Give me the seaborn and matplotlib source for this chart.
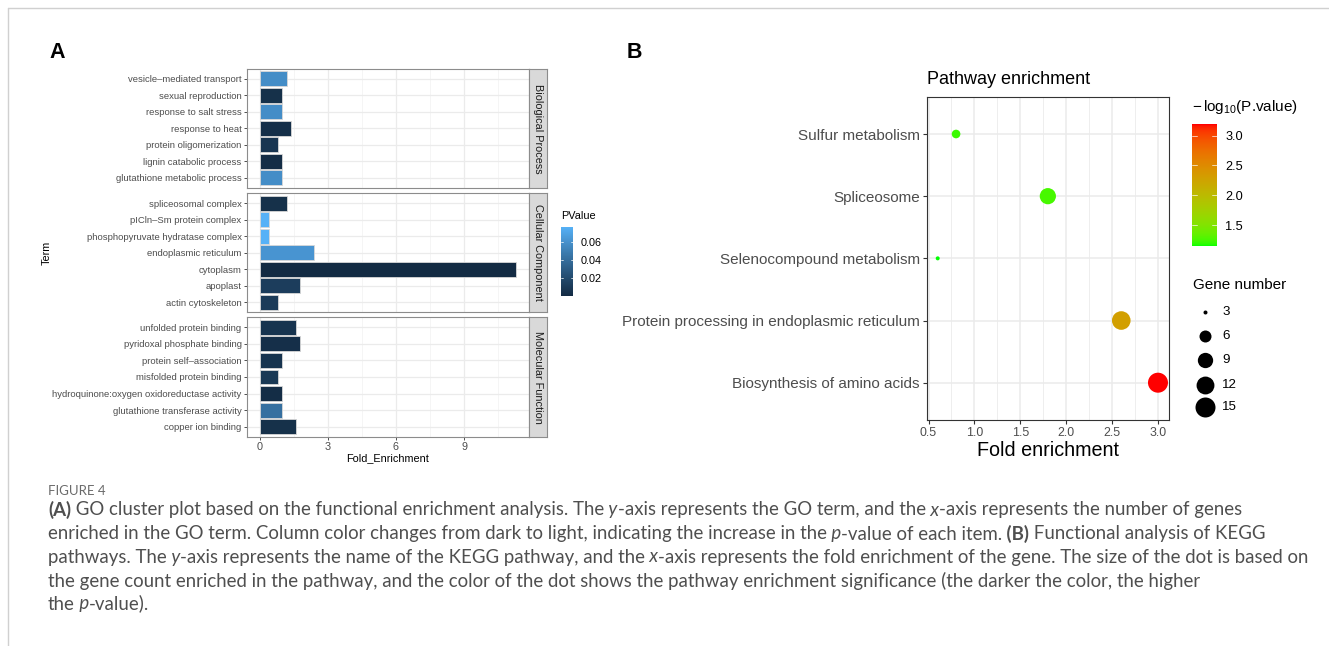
import numpy as np
import pandas as pd
import matplotlib
matplotlib.use("Agg")
import matplotlib.pyplot as plt
import seaborn as sns
from matplotlib import colors as mcolors
from matplotlib.cm import ScalarMappable
from matplotlib.lines import Line2D
from matplotlib.transforms import blended_transform_factory

# ---------------- data: panel A (GO terms, listed top to bottom) ----------------
bp_terms = ["vesicle–mediated transport", "sexual reproduction", "response to salt stress",
            "response to heat", "protein oligomerization", "lignin catabolic process",
            "glutathione metabolic process"]
bp_fold = [1.2, 1.0, 1.0, 1.4, 0.8, 1.0, 1.0]
bp_p = [0.058, 0.004, 0.058, 0.003, 0.007, 0.002, 0.058]

cc_terms = ["spliceosomal complex", "pICln–Sm protein complex", "phosphopyruvate hydratase complex",
            "endoplasmic reticulum", "cytoplasm", "apoplast", "actin cytoskeleton"]
cc_fold = [1.2, 0.4, 0.4, 2.4, 11.3, 1.8, 0.8]
cc_p = [0.004, 0.077, 0.077, 0.062, 0.0003, 0.012, 0.011]

mf_terms = ["unfolded protein binding", "pyridoxal phosphate binding", "protein self–association",
            "misfolded protein binding", "hydroquinone:oxygen oxidoreductase activity",
            "glutathione transferase activity", "copper ion binding"]
mf_fold = [1.6, 1.8, 1.0, 0.8, 1.0, 1.0, 1.6]
mf_p = [0.006, 0.003, 0.006, 0.009, 0.002, 0.042, 0.004]

ontologies = ["Biological Process", "Cellular Component", "Molecular Function"]
pvalue_ticks = [0.02, 0.04, 0.06]
fold_ticks_a = [0, 3, 6, 9]

# ---------------- data: panel B (KEGG pathways, listed top to bottom) ----------------
pathways = ["Sulfur metabolism", "Spliceosome", "Selenocompound metabolism",
            "Protein processing in endoplasmic reticulum", "Biosynthesis of amino acids"]
fold_b = [0.8, 1.8, 0.6, 2.6, 3.0]
genes_b = [4, 10, 3, 13, 15]
logp_b = [1.22, 1.25, 1.15, 2.3, 3.19]
gene_breaks = [3, 6, 9, 12, 15]
logp_ticks = [1.5, 2.0, 2.5, 3.0]
fold_ticks_b = [0.5, 1.0, 1.5, 2.0, 2.5, 3.0]

caption_head = "FIGURE 4"
caption_lines = [
    [("(A)", "b"), (" GO cluster plot based on the functional enrichment analysis. The", ""), (" y", "i"),
     ("-axis represents the GO term, and the", ""), (" x", "i"),
     ("-axis represents the number of genes", "")],
    [("enriched in the GO term. Column color changes from dark to light, indicating the increase in the", ""),
     (" p", "i"), ("-value of each item.", ""), (" (B)", "b"), (" Functional analysis of KEGG", "")],
    [("pathways. The", ""), (" y", "i"), ("-axis represents the name of the KEGG pathway, and the", ""),
     (" x", "i"), ("-axis represents the fold enrichment of the gene. The size of the dot is based on", "")],
    [("the gene count enriched in the pathway, and the color of the dot shows the pathway enrichment significance (the darker the color, the higher", "")],
    [("the", ""), (" p", "i"), ("-value).", "")],
]

# ---------------- helpers ----------------
W, H = 1329, 646
sns.set_theme(style="white")
plt.rcParams["font.family"] = ["Liberation Sans", "DejaVu Sans"]
plt.rcParams["mathtext.fontset"] = "custom"
plt.rcParams["mathtext.rm"] = "Liberation Sans"
plt.rcParams["mathtext.it"] = "Liberation Sans:italic"

fig = plt.figure(figsize=(W / 100, H / 100), dpi=100)
fig.patch.set_facecolor("white")


def ax_px(left, top, right, bottom):
    return fig.add_axes([left / W, 1 - bottom / H, (right - left) / W, (bottom - top) / H])


def _srgb_to_lab(c):
    rgb = np.array(mcolors.to_rgb(c))
    lin = np.where(rgb <= 0.04045, rgb / 12.92, ((rgb + 0.055) / 1.055) ** 2.4)
    M = np.array([[0.4124, 0.3576, 0.1805], [0.2126, 0.7152, 0.0722], [0.0193, 0.1192, 0.9505]])
    xyz = M @ lin / np.array([0.95047, 1.0, 1.08883])
    f = np.where(xyz > 0.008856, np.cbrt(xyz), 7.787 * xyz + 16 / 116)
    return np.array([116 * f[1] - 16, 500 * (f[0] - f[1]), 200 * (f[1] - f[2])])


def _lab_to_srgb(lab):
    L, a, b = lab
    fy = (L + 16) / 116
    fx = fy + a / 500
    fz = fy - b / 200
    f = np.array([fx, fy, fz])
    xyz = np.where(f ** 3 > 0.008856, f ** 3, (f - 16 / 116) / 7.787) * np.array([0.95047, 1.0, 1.08883])
    Minv = np.array([[3.2406, -1.5372, -0.4986], [-0.9689, 1.8758, 0.0415], [0.0557, -0.2040, 1.0570]])
    lin = Minv @ xyz
    lin = np.clip(lin, 0, 1)
    rgb = np.where(lin <= 0.0031308, 12.92 * lin, 1.055 * lin ** (1 / 2.4) - 0.055)
    return np.clip(rgb, 0, 1)


def lab_cmap(low, high, n=256):
    l0, l1 = _srgb_to_lab(low), _srgb_to_lab(high)
    cols = [_lab_to_srgb(l0 + (l1 - l0) * t) for t in np.linspace(0, 1, n)]
    return mcolors.ListedColormap(cols)


cmapA = lab_cmap("#132B43", "#56B1F7")
cmapB = lab_cmap("#00FF00", "#FF0000")

# ---------------- panel A ----------------
dfA = pd.DataFrame({
    "Term": bp_terms + cc_terms + mf_terms,
    "Fold_Enrichment": bp_fold + cc_fold + mf_fold,
    "PValue": bp_p + cc_p + mf_p,
    "Ontology": [ontologies[0]] * len(bp_terms) + [ontologies[1]] * len(cc_terms) + [ontologies[2]] * len(mf_terms),
})
normA = mcolors.Normalize(dfA["PValue"].min(), dfA["PValue"].max())
palA = {t: cmapA(normA(p)) for t, p in zip(dfA["Term"], dfA["PValue"])}
fmax = dfA["Fold_Enrichment"].max()
xloA, xhiA = -0.05 * fmax, 1.05 * fmax

facet_px = [(69, 187.7), (193.3, 312.3), (317.3, 436.7)]
term_lists = [bp_terms, cc_terms, mf_terms]
for i, (name, (top, bot), terms) in enumerate(zip(ontologies, facet_px, term_lists)):
    ax = ax_px(246.7, top, 529.3, bot)
    sub = dfA[dfA["Ontology"] == name]
    sns.barplot(data=sub, x="Fold_Enrichment", y="Term", hue="Term", order=terms, hue_order=terms,
                palette=palA, orient="h", width=0.9, saturation=1, legend=False, ax=ax,
                edgecolor="#d8d8d8", linewidth=0.6)
    ax.set_facecolor("white")
    ax.set_axisbelow(True)
    ax.set_xlim(xloA, xhiA)
    ax.set_ylim(len(terms) - 1 + 0.6, -0.6)
    ax.set_xticks(fold_ticks_a)
    ax.set_xticks([1.5, 4.5, 7.5, 10.5], minor=True)
    ax.grid(which="major", axis="both", color="#ebebeb", lw=0.9)
    ax.grid(which="minor", axis="x", color="#f2f2f2", lw=0.5)
    ax.set_xlabel("")
    ax.set_ylabel("")
    for s in ax.spines.values():
        s.set_color("#8c8c8c")
        s.set_linewidth(0.8)
    ax.tick_params(axis="y", length=2.5, width=0.6, color="#333333", labelsize=6.8,
                   labelcolor="#4d4d4d", pad=1.2, left=True)
    ax.tick_params(axis="x", which="minor", length=0)
    if i < 2:
        ax.tick_params(axis="x", which="major", length=0, labelbottom=False)
    else:
        ax.tick_params(axis="x", which="major", length=2.5, width=0.6, color="#333333",
                       labelsize=7.8, labelcolor="#4d4d4d", pad=1.5, bottom=True)
    sax = ax_px(529.3, top, 547.3, bot)
    sax.set_facecolor("#d9d9d9")
    sax.set_xticks([])
    sax.set_yticks([])
    for s in sax.spines.values():
        s.set_color("#8c8c8c")
        s.set_linewidth(0.8)
    sax.text(0.5, 0.5, name, rotation=270, ha="center", va="center", fontsize=7.8,
             color="#1a1a1a", transform=sax.transAxes)

fig.text(387.6 / W, 1 - 458 / H, "Fold_Enrichment", ha="center", va="center", fontsize=7.8, color="black")
fig.text(47 / W, 1 - 253 / H, "Term", rotation=90, ha="center", va="center", fontsize=7.8, color="black")

# colorbar A
caxA = ax_px(560.7, 226.7, 573.3, 296)
cbA = fig.colorbar(ScalarMappable(norm=normA, cmap=cmapA), cax=caxA)
cbA.outline.set_visible(False)
cbA.set_ticks(pvalue_ticks)
cbA.set_ticklabels([f"{v:.2f}" for v in pvalue_ticks])
caxA.tick_params(length=0, labelsize=7.8, pad=5, labelcolor="black")
trA = blended_transform_factory(caxA.transAxes, caxA.transData)
for v in pvalue_ticks:
    caxA.plot([0, 0.2], [v, v], color="white", lw=0.5, transform=trA)
    caxA.plot([0.8, 1.0], [v, v], color="white", lw=0.5, transform=trA)
fig.text(560.7 / W, 1 - 216 / H, "PValue", ha="left", va="center", fontsize=7.8, color="black")

# ---------------- panel B ----------------
dfB = pd.DataFrame({"Pathway": pathways, "Fold": fold_b, "Genes": genes_b, "logP": logp_b})


def dot_diam_px(g, gmin=min(genes_b), gmax=max(genes_b)):
    r = (g - gmin) / (gmax - gmin)
    return 4.0 + 16.0 * np.sqrt(r)


size_map = {g: (dot_diam_px(g) * 0.72) ** 2 for g in sorted(set(genes_b))}
axB = ax_px(926.7, 96.7, 1169, 420)
axB.set_facecolor("white")
axB.set_axisbelow(True)
sns.scatterplot(data=dfB, x="Fold", y="Pathway", hue="logP", palette=cmapB,
                hue_norm=(min(logp_b), max(logp_b)), size="Genes", sizes=size_map,
                legend=False, linewidth=0, ax=axB, zorder=3)
span = max(fold_b) - min(fold_b)
axB.set_xlim(min(fold_b) - 0.05 * span, max(fold_b) + 0.05 * span)
axB.set_ylim(len(pathways) - 1 + 0.6, -0.6)
axB.set_xticks(fold_ticks_b)
axB.set_xticks([0.75, 1.25, 1.75, 2.25, 2.75], minor=True)
axB.set_xticklabels([f"{v:.1f}" for v in fold_ticks_b])
axB.grid(which="major", axis="both", color="#ebebeb", lw=1.1)
axB.grid(which="minor", axis="x", color="#ebebeb", lw=0.6)
axB.set_xlabel("")
axB.set_ylabel("")
for s in axB.spines.values():
    s.set_color("#333333")
    s.set_linewidth(0.8)
axB.tick_params(axis="y", length=3, width=0.8, color="#333333", labelsize=11,
                labelcolor="#4d4d4d", pad=2, left=True)
axB.tick_params(axis="x", which="major", length=3, width=0.8, color="#333333", labelsize=8.9,
                labelcolor="#4d4d4d", pad=2, bottom=True)
axB.tick_params(axis="x", which="minor", length=0)

fig.text(927 / W, 1 - 79 / H, "Pathway enrichment", ha="left", va="center", fontsize=13, color="black")
fig.text(1048 / W, 1 - 451 / H, "Fold enrichment", ha="center", va="center", fontsize=14.2, color="black")

# colorbar B
normB = mcolors.Normalize(min(logp_b), max(logp_b))
caxB = ax_px(1191.7, 124.3, 1216.7, 246)
cbB = fig.colorbar(ScalarMappable(norm=normB, cmap=cmapB), cax=caxB)
cbB.outline.set_visible(False)
cbB.set_ticks(logp_ticks)
cbB.set_ticklabels([f"{v:.1f}" for v in logp_ticks])
caxB.tick_params(length=0, labelsize=9.2, pad=6, labelcolor="black")
trB = blended_transform_factory(caxB.transAxes, caxB.transData)
for v in logp_ticks:
    caxB.plot([0, 0.2], [v, v], color="white", lw=0.6, transform=trB, alpha=0.8)
    caxB.plot([0.8, 1.0], [v, v], color="white", lw=0.6, transform=trB, alpha=0.8)
fig.text(1192 / W, 1 - 107 / H, r"$-\,\mathrm{log}_{10}$(P.value)", ha="left", va="center",
         fontsize=11, color="black")

# size legend B
legax = ax_px(1180, 290, 1300, 420)
legax.set_xlim(1180, 1300)
legax.set_ylim(420, 290)
legax.axis("off")
leg_y = [312, 336, 360, 385, 407]
for g, yy in zip(gene_breaks, leg_y):
    legax.scatter([1204.7], [yy], s=(dot_diam_px(g) * 0.72) ** 2, color="black", linewidths=0)
    legax.text(1222.3, yy, str(g), ha="left", va="center", fontsize=9.6, color="black")
fig.text(1192.7 / W, 1 - 285 / H, "Gene number", ha="left", va="center", fontsize=11, color="black")

# ---------------- panel letters, frame, caption ----------------
fig.text(57 / W, 1 - 52.5 / H, "A", ha="center", va="center", fontsize=15.5, weight="bold", color="black")
fig.text(634 / W, 1 - 52.5 / H, "B", ha="center", va="center", fontsize=15.5, weight="bold", color="black")

fig.add_artist(Line2D([8 / W, 1], [1 - 8 / H, 1 - 8 / H], transform=fig.transFigure, color="#d0d0d0", lw=1))
fig.add_artist(Line2D([8 / W, 8 / W], [1 - 8 / H, 0], transform=fig.transFigure, color="#d0d0d0", lw=1))

fig.text(48 / W, 1 - 491 / H, caption_head, ha="left", va="center", fontsize=9.5, color="#6a6a6a",
         family=["Lato", "DejaVu Sans"])

renderer = fig.canvas.get_renderer()
cap_size = 13.4
line_centers = [510, 534, 557, 581, 604]
for segs, yc in zip(caption_lines, line_centers):
    x = 48.0
    for text, style in segs:
        t = fig.text(x / W, 1 - (yc + 5.5) / H, text, ha="left", va="baseline", fontsize=cap_size,
                     family=["Lato", "DejaVu Sans"], color="#4f4f4f",
                     weight="bold" if "b" in style else "normal",
                     style="italic" if "i" in style else "normal")
        x += t.get_window_extent(renderer).width

fig.savefig("out.png", dpi=100, facecolor="white")
